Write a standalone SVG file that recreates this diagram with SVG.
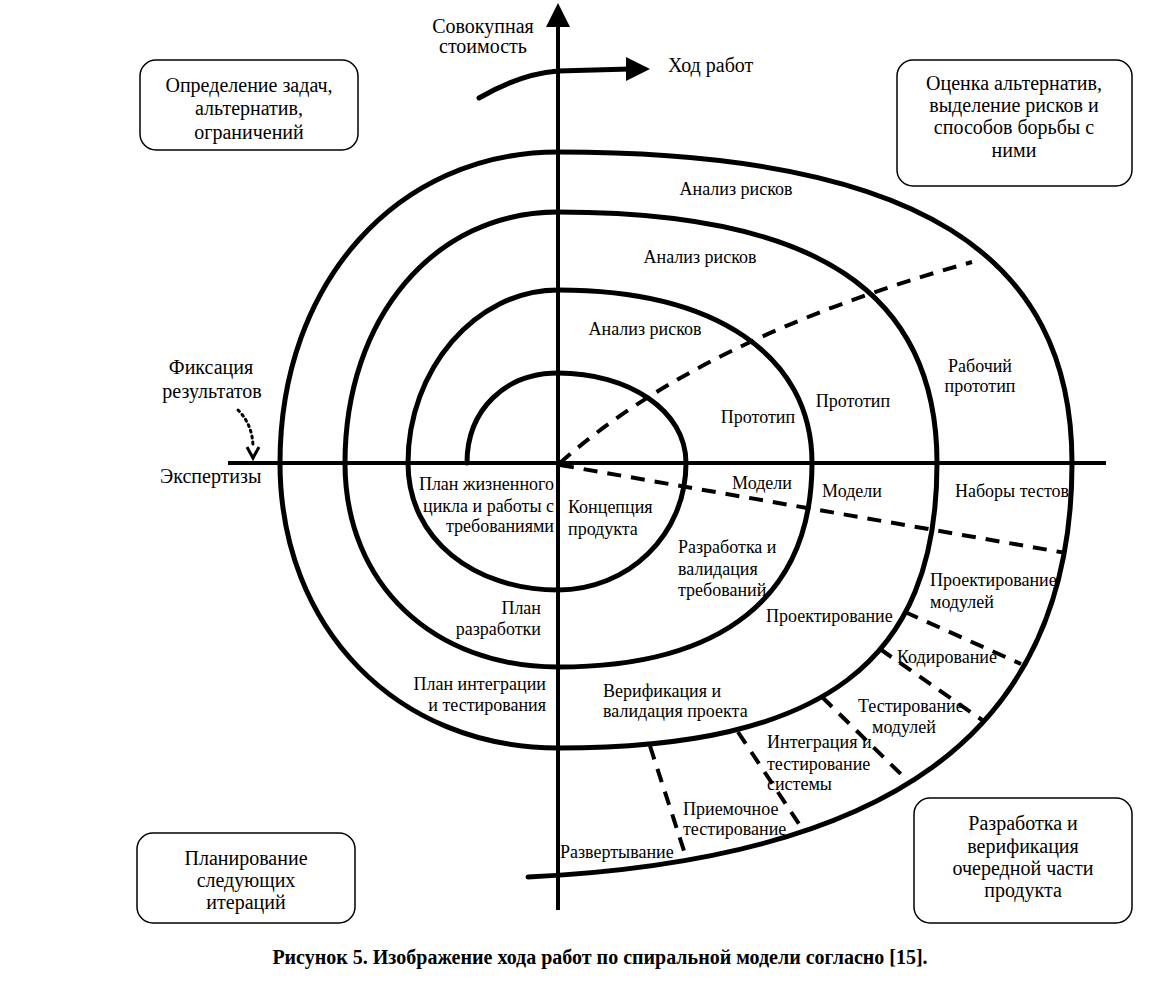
<svg xmlns="http://www.w3.org/2000/svg" width="1174" height="981" viewBox="0 0 1174 981">
<style>
text{font-family:"Liberation Serif","Times New Roman",serif;fill:#000}
.box{fill:#fff;stroke:#000;stroke-width:1.5}
.bt{font-size:20px;text-anchor:middle}
.ax{font-size:20px}
.lb{font-size:18px}
.m{text-anchor:middle}
.e{text-anchor:end}
.sp{fill:none;stroke:#000;stroke-width:5;stroke-linecap:round}
.axis{fill:none;stroke:#000;stroke-width:4}
.dash{fill:none;stroke:#000;stroke-width:4;stroke-dasharray:14 10}
.cap{font-size:20px;font-weight:bold;text-anchor:middle}
</style>
<rect width="1174" height="981" fill="#fff"/>
<g id="connectors">
  <line class="axis" x1="558" y1="24" x2="558" y2="910"/>
  <polygon points="558,3 546,27 570,27" fill="#000"/>
  <line class="axis" x1="228" y1="463" x2="1106" y2="463"/>
  <path d="M479,98 Q520,74 558,71 L630,69" fill="none" stroke="#000" stroke-width="5" stroke-linecap="round"/>
  <polygon points="626,57 650,69 626,81" fill="#000"/>
  <path d="M238,410 Q253,425 253,448" fill="none" stroke="#000" stroke-width="3" stroke-dasharray="2 4" stroke-linecap="round"/>
  <polyline points="247,447 253,458 259,447" fill="none" stroke="#000" stroke-width="3"/>
  <path class="sp" d="M467,463 C467,410 505,373 558,373 C628,373 686,410 686,463 C686,535 628,590 558,590 C475,590 408,540 408,463 C408,370 475,290 558,290 C715,290 812,355 812,463 C812,596 723,667 558,667 C434,667 345,585 345,463 C345,318 434,212 558,212 C816,212 937,292 937,463 C937,662 824,748 558,748 C397,748 280,628 280,463 C280,283 397,152 558,152 C918,152 1072,255 1072,463 C1072,740 880,860 528,877"/>
  <path class="dash" d="M560,463 Q700,338 972,262"/>
  <path class="dash" d="M560,465 L1066,553"/>
  <path class="dash" d="M905,612 L1021,664"/>
  <path class="dash" d="M880,649 L985,722"/>
  <path class="dash" d="M822,697 L908,781"/>
  <path class="dash" d="M738,732 L803,830"/>
  <path class="dash" d="M650,746 L687,860"/>
</g>
<g id="box-tl">
  <rect class="box" x="140" y="60" width="218" height="90" rx="16"/>
  <text class="bt" x="249" y="92">Определение задач,</text>
  <text class="bt" x="249" y="115">альтернатив,</text>
  <text class="bt" x="249" y="139">ограничений</text>
</g>
<g id="box-tr">
  <rect class="box" x="897" y="60" width="235" height="126" rx="16"/>
  <text class="bt" x="1014" y="90">Оценка альтернатив,</text>
  <text class="bt" x="1014" y="112">выделение рисков и</text>
  <text class="bt" x="1014" y="134">способов борьбы с</text>
  <text class="bt" x="1014" y="157">ними</text>
</g>
<g id="box-bl">
  <rect class="box" x="137" y="833" width="218" height="90" rx="16"/>
  <text class="bt" x="246" y="865">Планирование</text>
  <text class="bt" x="246" y="887">следующих</text>
  <text class="bt" x="246" y="909">итераций</text>
</g>
<g id="box-br">
  <rect class="box" x="914" y="798" width="218" height="125" rx="16"/>
  <text class="bt" x="1023" y="830">Разработка и</text>
  <text class="bt" x="1023" y="853">верификация</text>
  <text class="bt" x="1023" y="875">очередной части</text>
  <text class="bt" x="1023" y="897">продукта</text>
</g>
<g id="axis-labels">
  <text class="ax m" x="483" y="33">Совокупная</text>
  <text class="ax m" x="483" y="53">стоимость</text>
  <text class="ax" x="668" y="72">Ход работ</text>
  <text class="ax m" x="211" y="374">Фиксация</text>
  <text class="ax m" x="212" y="398">результатов</text>
  <text class="ax" x="160" y="483">Экспертизы</text>
</g>
<g id="spiral-labels">
  <text class="lb m" x="736" y="195">Анализ рисков</text>
  <text class="lb m" x="700" y="263">Анализ рисков</text>
  <text class="lb m" x="645" y="335">Анализ рисков</text>
  <text class="lb m" x="758" y="423">Прототип</text>
  <text class="lb m" x="853" y="407">Прототип</text>
  <text class="lb m" x="980" y="372">Рабочий</text>
  <text class="lb m" x="980" y="392">прототип</text>
  <text class="lb m" x="762" y="489">Модели</text>
  <text class="lb m" x="852" y="497">Модели</text>
  <text class="lb m" x="1012" y="497">Наборы тестов</text>
  <text class="lb e" x="554" y="490">План жизненного</text>
  <text class="lb e" x="554" y="512">цикла и работы с</text>
  <text class="lb e" x="554" y="532">требованиями</text>
  <text class="lb" x="568" y="513">Концепция</text>
  <text class="lb" x="568" y="535">продукта</text>
  <text class="lb" x="678" y="553">Разработка и</text>
  <text class="lb" x="678" y="575">валидация</text>
  <text class="lb" x="678" y="596">требований</text>
  <text class="lb e" x="541" y="614">План</text>
  <text class="lb e" x="541" y="635">разработки</text>
  <text class="lb e" x="546" y="690">План интеграции</text>
  <text class="lb e" x="546" y="711">и тестирования</text>
  <text class="lb" x="603" y="697">Верификация и</text>
  <text class="lb" x="603" y="717">валидация проекта</text>
  <text class="lb" x="766" y="622">Проектирование</text>
  <text class="lb" x="930" y="586">Проектирование</text>
  <text class="lb" x="930" y="608">модулей</text>
  <text class="lb" x="897" y="663">Кодирование</text>
  <text class="lb" x="858" y="712">Тестирование</text>
  <text class="lb" x="872" y="733">модулей</text>
  <text class="lb" x="767" y="748">Интеграция и</text>
  <text class="lb" x="767" y="770">тестирование</text>
  <text class="lb" x="767" y="790">системы</text>
  <text class="lb" x="683" y="815">Приемочное</text>
  <text class="lb" x="683" y="835">тестирование</text>
  <text class="lb" x="560" y="858">Развертывание</text>
</g>
<text class="cap" x="600" y="964">Рисунок 5. Изображение хода работ по спиральной модели согласно [15].</text>
</svg>
